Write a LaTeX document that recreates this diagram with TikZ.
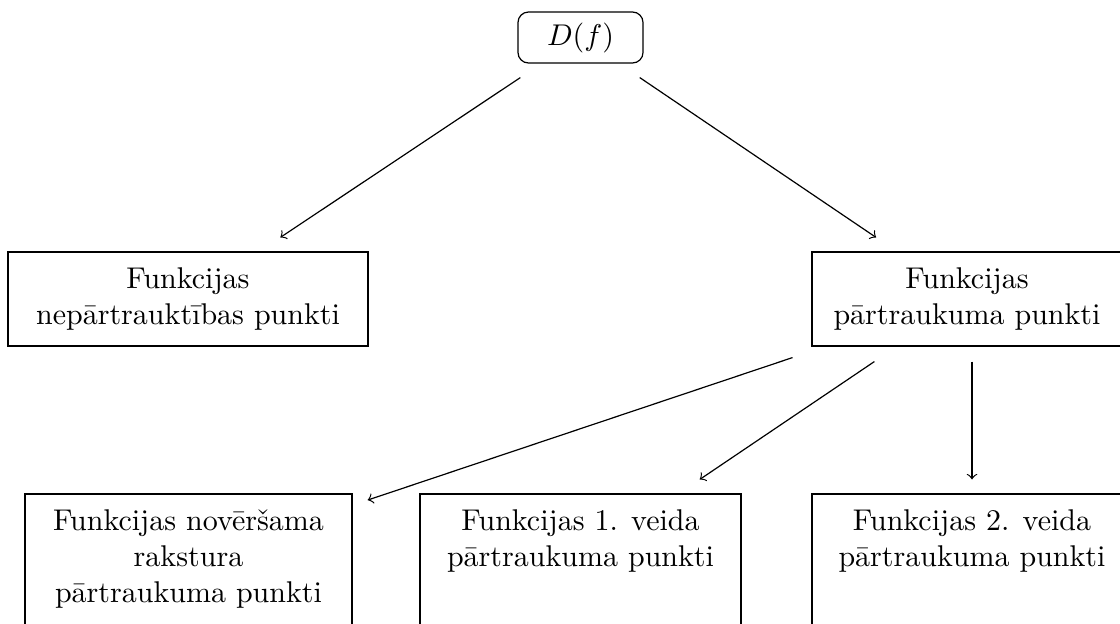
\documentclass[tikz,border=0pt]{standalone}
\usepackage{fontspec}
\begin{document}
\begin{tikzpicture}[x=0.333333pt,y=-0.333333pt,
  box/.style={draw,line width=0.4pt,inner sep=0pt,align=center},
  txt/.style={inner sep=0pt,align=center,anchor=north},
  conn/.style={->,line width=0.4pt}]
\useasboundingbox (0,0) rectangle (1120,623);
\clip (0,0) rectangle (1120,623);
\node[box,rounded corners=3.5pt,minimum width=41.67pt,minimum height=17pt] (df) at (580.5,37.5) {$D(f)$};
\node[box,minimum width=120pt,minimum height=31.33pt] (lm) at (188,299) {Funkcijas\\nepārtrauktības punkti};
\node[box,minimum width=103.33pt,minimum height=31.33pt] (rm) at (967,299) {Funkcijas\\pārtraukuma punkti};
\node[box,minimum width=109pt,minimum height=44pt] (bl) at (188.5,560) {};
\node[box,minimum width=107pt,minimum height=44pt] (bm) at (580.5,560) {};
\node[box,minimum width=106.67pt,minimum height=44pt] (br) at (972,560) {};
\node[txt] (blt) at (188.5,509) {Funkcijas novēršama\\rakstura\\pārtraukuma punkti};
\node[txt] (bmt) at (580.5,509) {Funkcijas 1. veida\\pārtraukuma punkti};
\node[txt] (brt) at (972,509) {Funkcijas 2. veida\\pārtraukuma punkti};
\draw[conn,shorten <=8.4pt,shorten >=8.4pt] (df) -- (lm);
\draw[conn,shorten <=8.3pt,shorten >=8.3pt] (df) -- (rm);
\draw[conn,shorten <=11.5pt,shorten >=5.3pt] (rm) -- (bl);
\draw[conn,shorten <=8.9pt,shorten >=8.3pt] (rm) -- (bm);
\draw[conn,shorten <=5pt,shorten >=4.67pt] (rm.south -| br.north) -- (br.north);
\end{tikzpicture}
\end{document}
